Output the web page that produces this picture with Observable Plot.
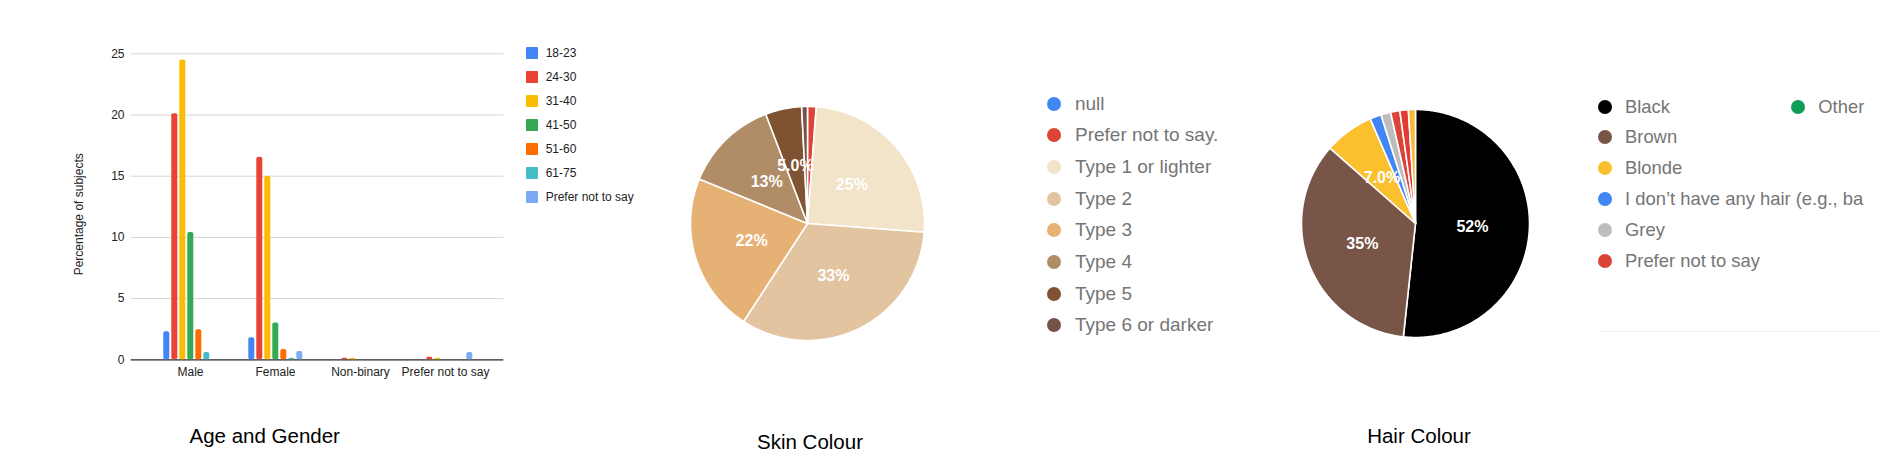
<!DOCTYPE html>
<html><head><meta charset="utf-8">
<script src="https://cdn.jsdelivr.net/npm/d3@7"></script>
<script src="https://cdn.jsdelivr.net/npm/@observablehq/plot@0.6"></script>
<style>
body{margin:0;background:#fff;font-family:"Liberation Sans",Arial,sans-serif;}
#root{position:relative;width:1881px;height:467px;overflow:hidden;background:#fff}
.abs{position:absolute}
.abs svg{display:block}
.row{position:absolute;display:flex;align-items:center;white-space:nowrap}
</style></head><body><div id="root"></div>
<script>
// ---------- Age and Gender (grouped bars) ----------
const genders = ["Male", "Female", "Non-binary", "Prefer not to say"];
const ages = ["18-23", "24-30", "31-40", "41-50", "51-60", "61-75", "Prefer not to say"];
const ageColors = ["#4285F4", "#EA4335", "#FBBC04", "#34A853", "#FF6D01", "#46BDC6", "#7BAAF7"];
const maleValues = [2.3, 20.1, 24.5, 10.4, 2.45, 0.6, 0];
const femaleValues = [1.8, 16.55, 15.0, 3.0, 0.85, 0.12, 0.68];
const nonBinaryValues = [0, 0.12, 0.12, 0, 0, 0, 0];
const preferNotValues = [0, 0.2, 0.12, 0, 0, 0, 0.6];
const yTicks = [0, 5, 10, 15, 20, 25];
const barYLabel = "Percentage of subjects";
const barTitle = "Age and Gender";

// ---------- Skin Colour (pie) ----------
const skinLabels = ["null", "Prefer not to say.", "Type 1 or lighter", "Type 2", "Type 3", "Type 4", "Type 5", "Type 6 or darker"];
const skinValues = [0, 1.2, 25.0, 33.0, 22.0, 13.0, 5.0, 0.8];
const skinColors = ["#4285F4", "#DB4437", "#F1E4C9", "#E2C4A1", "#E6B174", "#B08C67", "#7F5331", "#765349"];
const skinTitle = "Skin Colour";

// ---------- Hair Colour (pie) ----------
// the legend shows only its first 7 entries; the last two slices are not listed in it
const hairLabels = ["Black", "Brown", "Blonde", "I don’t have any hair (e.g., ba", "Grey", "Prefer not to say", "Other", "Red", "Ginger"];
const hairValues = [51.7, 34.8, 7.0, 1.6, 1.4, 1.3, 0, 1.2, 1.0];
const hairColors = ["#000000", "#795548", "#FBC02D", "#4285F4", "#BDBDBD", "#DB4437", "#0F9D58", "#E53935", "#F9B936"];
const hairLegendCount = 7;
const hairTitle = "Hair Colour";

const FONT = '"Liberation Sans", Arial, sans-serif';
const root = document.getElementById("root");
function place(node, left, top) {
  const d = document.createElement("div");
  d.className = "abs";
  d.style.left = left + "px";
  d.style.top = top + "px";
  d.appendChild(node);
  root.appendChild(d);
  return d;
}

// ---- bar chart: background (grid, axes) ----
const BW = 520, BH = 400, ML = 130.7, MR = 16.7, MT = 53.3, MB = 40.7;
const barData = [];
[maleValues, femaleValues, nonBinaryValues, preferNotValues].forEach((vals, gi) =>
  vals.forEach((v, ai) => barData.push({gender: genders[gi], age: ages[ai], value: v})));

const barBg = Plot.plot({
  width: BW, height: BH,
  marginLeft: ML, marginRight: MR, marginTop: MT, marginBottom: MB,
  style: {fontFamily: FONT, fontSize: "12px", color: "#222", background: "transparent"},
  x: {type: "band", domain: genders, paddingInner: 0.318, paddingOuter: 0.34, label: null, tickSize: 0, tickPadding: 8},
  y: {domain: [0, 25], ticks: yTicks, tickSize: 0, tickPadding: 6.7, label: null},
  marks: [
    Plot.gridY(yTicks, {stroke: "#d6d6d6", strokeOpacity: 1}),
    Plot.ruleY([0], {stroke: "#333", strokeWidth: 1.2}),
    Plot.text([barYLabel], {frameAnchor: "left", textAnchor: "middle", rotate: -90, dx: -52.4, dy: 7.5, fill: "#222", fontSize: 12})
  ]
});
place(barBg, 0, 0);

const barFg = Plot.plot({
  width: BW, height: BH,
  marginLeft: ML, marginRight: MR, marginTop: MT, marginBottom: MB,
  style: {fontFamily: FONT, fontSize: "12px", background: "transparent"},
  fx: {domain: genders, paddingInner: 0.318, paddingOuter: 0.34, axis: null, label: null},
  x: {domain: ages, padding: 0.25, axis: null},
  y: {domain: [0, 25], axis: null},
  color: {domain: ages, range: ageColors},
  marks: [
    Plot.barY(barData.filter(d => d.value > 0), {fx: "gender", x: "age", y: "value", fill: "age", rx: 2})
  ]
});
place(barFg, 0, 0);

// bar legend
ages.forEach((a, i) => {
  const r = document.createElement("div");
  r.className = "row";
  r.style.left = "525.7px";
  r.style.top = (53.3 + 24 * i - 8) + "px";
  r.style.height = "16px";
  r.style.fontSize = "12px";
  r.style.color = "#222";
  r.innerHTML = `<span style="display:inline-block;width:12px;height:12px;background:${ageColors[i]};border-radius:1px;margin-right:8px"></span><span>${a}</span>`;
  root.appendChild(r);
});

// ---- pie helper ----
function piePlot(labels, values, colors, radius, minLabel) {
  const data = labels.map((l, i) => ({key: l, value: values[i]}));
  const arcs = d3.pie().sort(null).value(d => d.value)(data);
  const pts = [];
  const lbl = [];
  const fmt = d3.format(".2r");
  arcs.forEach(a => {
    if (a.data.value <= 0) return;
    pts.push({key: a.data.key, x: 0, y: 0});
    const n = Math.max(2, Math.ceil((a.endAngle - a.startAngle) / 0.01));
    for (let k = 0; k <= n; k++) {
      const t = a.startAngle + (a.endAngle - a.startAngle) * k / n;
      pts.push({key: a.data.key, x: Math.sin(t), y: Math.cos(t)});
    }
    if (a.data.value >= minLabel) {
      const m = (a.startAngle + a.endAngle) / 2;
      lbl.push({x: 0.5 * Math.sin(m), y: 0.5 * Math.cos(m), text: fmt(a.data.value) + "%"});
    }
  });
  const m = 10;
  return Plot.plot({
    width: 2 * radius + 2 * m, height: 2 * radius + 2 * m,
    margin: m,
    style: {fontFamily: FONT, background: "transparent"},
    x: {domain: [-1, 1], axis: null},
    y: {domain: [-1, 1], axis: null},
    color: {domain: labels, range: colors},
    marks: [
      Plot.line(pts, {x: "x", y: "y", z: "key", fill: "key", stroke: "white", strokeWidth: 1.6, curve: "linear-closed"}),
      Plot.text(lbl, {x: "x", y: "y", text: "text", fill: "white", fontSize: 16, fontWeight: "bold"})
    ]
  });
}

// skin pie
const SR = 117;
place(piePlot(skinLabels, skinValues, skinColors, SR, 4), 806.7 - SR - 10, 223.3 - SR - 10);
skinLabels.forEach((l, i) => {
  const r = document.createElement("div");
  r.className = "row";
  r.style.left = "1047.3px";
  r.style.top = (103.7 + 31.67 * i - 12) + "px";
  r.style.height = "24px";
  r.style.fontSize = "19px";
  r.style.color = "#757575";
  r.innerHTML = `<span style="display:inline-block;width:14px;height:14px;background:${skinColors[i]};border-radius:50%;margin-right:13.7px"></span><span>${l}</span>`;
  root.appendChild(r);
});

// hair pie
const HR = 114;
place(piePlot(hairLabels, hairValues, hairColors, HR, 4), 1415 - HR - 10, 222.5 - HR - 10);
hairLabels.slice(0, hairLegendCount).forEach((l, i) => {
  const col = i < 6 ? 0 : 1;
  const rowI = i < 6 ? i : 0;
  const r = document.createElement("div");
  r.className = "row";
  r.style.left = (col === 0 ? 1598 : 1791.3) + "px";
  r.style.top = (106.5 + 30.9 * rowI - 12) + "px";
  r.style.height = "24px";
  r.style.fontSize = "18.4px";
  r.style.color = "#757575";
  r.innerHTML = `<span style="display:inline-block;width:14px;height:14px;background:${hairColors[i]};border-radius:50%;margin-right:13px"></span><span>${l}</span>`;
  root.appendChild(r);
});
const sep = document.createElement("div");
sep.className = "abs";
sep.style.left = "1598px"; sep.style.top = "330.5px"; sep.style.width = "283px"; sep.style.height = "1px";
sep.style.background = "#f0f0f0";
root.appendChild(sep);

// titles
function title(text, cx, baseline) {
  const fs = 20.5;
  const d = document.createElement("div");
  d.className = "abs";
  d.style.fontSize = fs + "px";
  d.style.lineHeight = fs + "px";
  d.style.color = "#000";
  d.style.whiteSpace = "nowrap";
  d.style.left = cx + "px";
  d.style.top = (baseline - 0.8465 * fs) + "px";
  d.style.transform = "translateX(-50%)";
  d.textContent = text;
  root.appendChild(d);
}
title(barTitle, 264.7, 443.3);
title(skinTitle, 810, 449.5);
title(hairTitle, 1419, 443.3);
</script>
</body></html>
